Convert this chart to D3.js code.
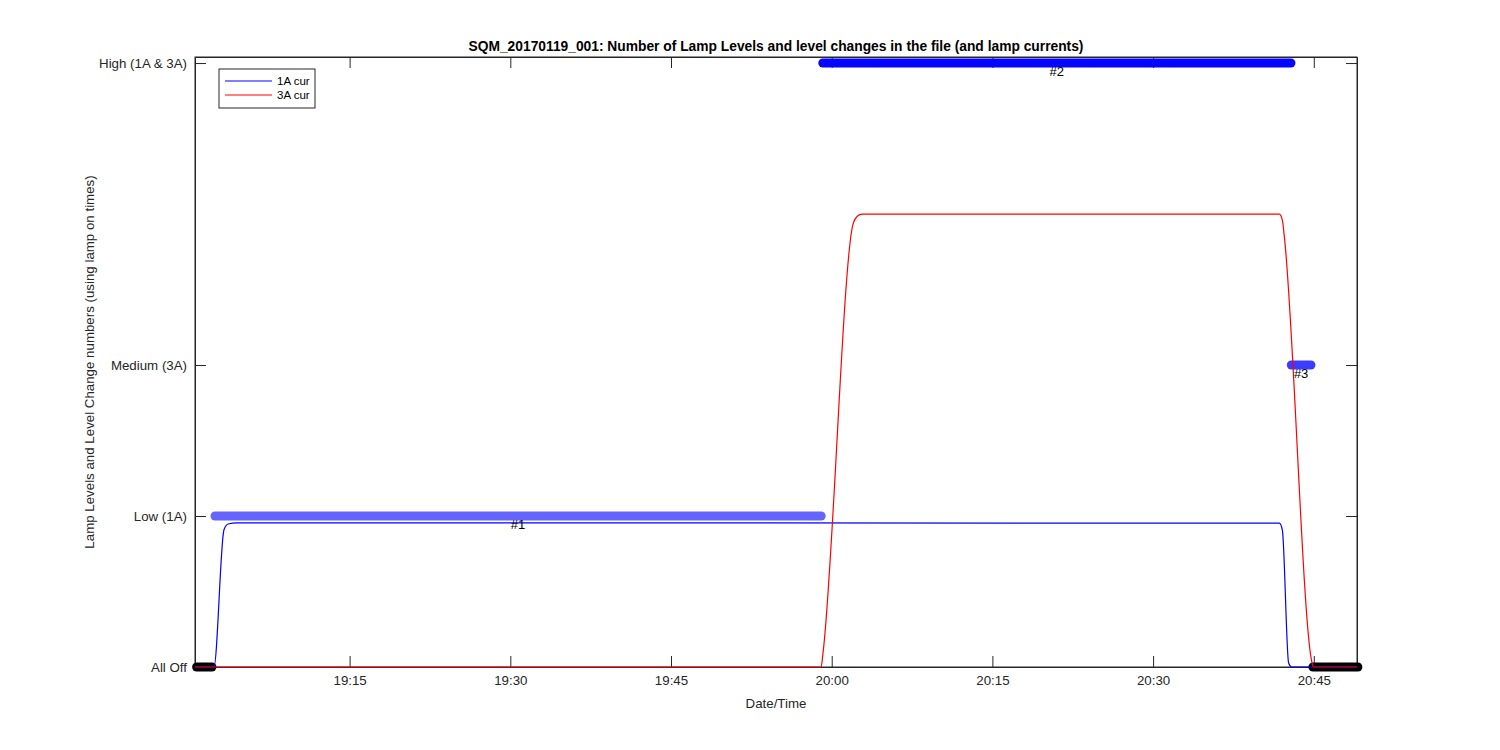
<!DOCTYPE html>
<html>
<head>
<meta charset="utf-8">
<script src="https://cdn.jsdelivr.net/npm/d3@7"></script>
<style>
  body { margin: 0; background: #fff; }
  svg text { font-family: "Liberation Sans", Arial, Helvetica, sans-serif; fill: #262626; }
</style>
</head>
<body>
<div id="chart"></div>
<script>
// axis data
const timeDomain = ["19:00:34", "20:49:02"];
const xTickTimes = ["19:15:00", "19:30:00", "19:45:00", "20:00:00", "20:15:00", "20:30:00", "20:45:00"];
const levelTicks = [0, 1, 2, 4];
const levelNames = ["All Off", "Low (1A)", "Medium (3A)", "High (1A & 3A)"];

// 1A lamp current
const cur1aTimes = ["19:00:34", "19:02:20", "19:03:16", "19:03:39", "19:04:30", "20:41:47", "20:42:04", "20:42:39", "20:42:56", "20:49:02"];
const cur1aValues = [0, 0, 0.907, 0.947, 0.955, 0.953, 0.907, 0.026, 0, 0];

// 3A lamp current
const cur3aTimes = ["19:00:34", "19:59:01", "19:59:10", "20:02:01", "20:02:23", "20:02:51", "20:41:47", "20:42:04", "20:42:15", "20:44:52", "20:44:58", "20:49:02"];
const cur3aValues = [0, 0, 0.08, 2.94, 2.985, 3.0, 3.0, 2.96, 2.85, 0.02, 0, 0];

// lamp level periods
const segStart = ["19:00:43", "19:02:26", "19:59:10", "20:42:54", "20:44:55"];
const segEnd = ["19:02:09", "19:59:01", "20:42:52", "20:44:44", "20:49:07"];
const segLevel = [0, 1, 4, 2, 0];
const segLabels = ["", "#1", "#2", "#3", ""];
const segColors = ["#000000", "#6464ff", "#0505ff", "#3c3cff", "#000000"];

document.addEventListener("DOMContentLoaded", function() {
  const parse = d3.timeParse("%H:%M:%S");
  const W = 1500, H = 750;
  const margin = { top: 57, right: 143, bottom: 83, left: 195 };
  const width = W - margin.left - margin.right;
  const height = H - margin.top - margin.bottom;

  const svg = d3.select("#chart").append("svg")
    .attr("width", W)
    .attr("height", H);

  const g = svg.append("g").attr("transform", `translate(${margin.left},${margin.top})`);

  const x = d3.scaleTime().domain(timeDomain.map(parse)).range([0, width]);
  const y = d3.scaleLinear().domain([0, 4.04]).range([height, 0]);

  const tickLen = 11;
  const xTicks = xTickTimes.map(parse);

  // axes
  g.append("g")
    .attr("transform", `translate(0,${height})`)
    .call(d3.axisBottom(x).tickValues(xTicks).tickFormat(d3.timeFormat("%H:%M"))
      .tickSizeInner(-tickLen).tickSizeOuter(0).tickPadding(9))
    .call(ax => ax.selectAll("text").attr("font-size", 13.3));

  g.append("g")
    .call(d3.axisTop(x).tickValues(xTicks).tickFormat("")
      .tickSizeInner(-tickLen).tickSizeOuter(0));

  g.append("g")
    .call(d3.axisLeft(y).tickValues(levelTicks).tickFormat((d, i) => levelNames[i])
      .tickSizeInner(-tickLen).tickSizeOuter(0).tickPadding(8))
    .call(ax => ax.selectAll("text").attr("font-size", 13.3));

  g.append("g")
    .attr("transform", `translate(${width},0)`)
    .call(d3.axisRight(y).tickValues(levelTicks).tickFormat("")
      .tickSizeInner(-tickLen).tickSizeOuter(0));

  g.selectAll(".domain, .tick line").attr("stroke", "#262626");

  g.append("rect")
    .attr("width", width)
    .attr("height", height)
    .attr("fill", "none")
    .attr("stroke", "#262626");

  // level markers
  const segLine = d3.line().x(d => x(d[0])).y(d => y(d[1]));
  segStart.forEach((s, i) => {
    g.append("path")
      .attr("d", segLine([[parse(s), segLevel[i]], [parse(segEnd[i]), segLevel[i]]]))
      .attr("stroke", segColors[i])
      .attr("stroke-width", 9)
      .attr("stroke-linecap", "round")
      .attr("fill", "none");
  });

  // lamp currents
  const curLine = d3.line().x(d => x(d[0])).y(d => y(d[1])).curve(d3.curveMonotoneX);
  g.append("path")
    .attr("d", curLine(cur1aTimes.map((t, i) => [parse(t), cur1aValues[i]])))
    .attr("stroke", "#0000ff")
    .attr("stroke-width", 1.2)
    .attr("fill", "none");
  g.append("path")
    .attr("d", curLine(cur3aTimes.map((t, i) => [parse(t), cur3aValues[i]])))
    .attr("stroke", "#ff0000")
    .attr("stroke-width", 1.2)
    .attr("fill", "none");

  // level change numbers
  segLabels.forEach((lab, i) => {
    if (!lab) return;
    const mid = new Date((parse(segStart[i]).getTime() + parse(segEnd[i]).getTime()) / 2);
    g.append("text")
      .attr("x", x(mid))
      .attr("y", y(segLevel[i]) + 3)
      .attr("dy", "0.8em")
      .attr("text-anchor", "middle")
      .attr("font-size", 13)
      .style("fill", "#000")
      .text(lab);
  });

  // title and labels
  svg.append("text")
    .attr("x", margin.left + width / 2)
    .attr("y", 51)
    .attr("text-anchor", "middle")
    .attr("font-size", 13.8)
    .attr("font-weight", "bold")
    .style("fill", "#000")
    .text("SQM_20170119_001: Number of Lamp Levels and level changes in the file (and lamp currents)");

  svg.append("text")
    .attr("x", margin.left + width / 2)
    .attr("y", 708)
    .attr("text-anchor", "middle")
    .attr("font-size", 13.3)
    .text("Date/Time");

  svg.append("text")
    .attr("transform", `translate(94,${margin.top + height / 2}) rotate(-90)`)
    .attr("text-anchor", "middle")
    .attr("font-size", 13.3)
    .text("Lamp Levels and Level Change numbers (using lamp on times)");

  // legend
  const lg = svg.append("g").attr("transform", "translate(219,69)");
  lg.append("rect")
    .attr("width", 96)
    .attr("height", 39)
    .attr("fill", "#fff")
    .attr("stroke", "#262626");
  const legNames = ["1A cur", "3A cur"];
  const legColors = ["#0000ff", "#ff0000"];
  legNames.forEach((n, i) => {
    const yy = 12 + i * 14;
    lg.append("line")
      .attr("x1", 6).attr("x2", 53)
      .attr("y1", yy).attr("y2", yy)
      .attr("stroke", legColors[i])
      .attr("stroke-width", 1.2);
    lg.append("text")
      .attr("x", 58)
      .attr("y", yy)
      .attr("dy", "0.35em")
      .attr("font-size", 11.5)
      .style("fill", "#000")
      .text(n);
  });
});
</script>
</body>
</html>
